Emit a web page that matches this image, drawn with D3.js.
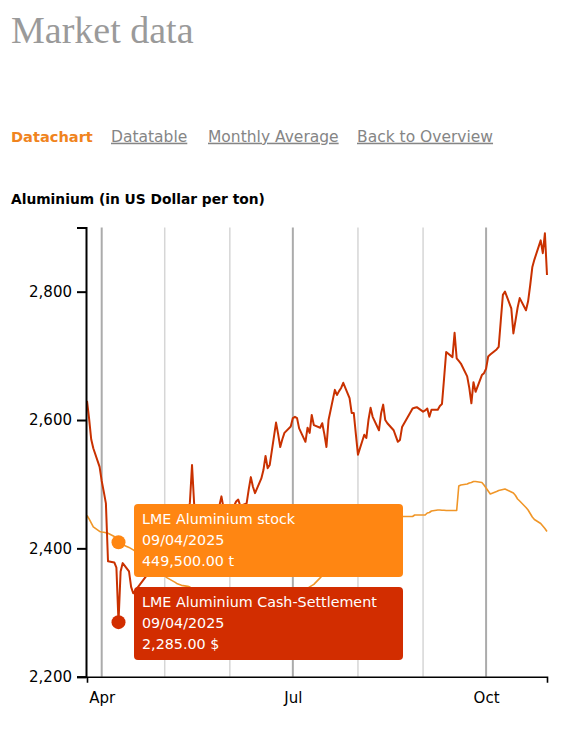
<!DOCTYPE html>
<html>
<head>
<meta charset="utf-8">
<script src="https://cdn.jsdelivr.net/npm/d3@7"></script>
<style>
  body { margin: 0; background: #fff; }
  svg { display: block; }
  text { font-family: "DejaVu Sans", sans-serif; }
</style>
</head>
<body>
<svg id="chart" width="562" height="738"></svg>
<script>
// trading days shown on the chart (one row per week)
var tradeDates = [
  "2025-03-25","2025-03-26","2025-03-27","2025-03-28",
  "2025-03-31","2025-04-01","2025-04-02","2025-04-03","2025-04-04",
  "2025-04-07","2025-04-08","2025-04-09","2025-04-10","2025-04-11",
  "2025-04-14","2025-04-15","2025-04-16","2025-04-17",
  "2025-04-22","2025-04-23","2025-04-24","2025-04-25",
  "2025-04-28","2025-04-29","2025-04-30","2025-05-01","2025-05-02",
  "2025-05-06","2025-05-07","2025-05-08","2025-05-09",
  "2025-05-12","2025-05-13","2025-05-14","2025-05-15","2025-05-16",
  "2025-05-19","2025-05-20","2025-05-21","2025-05-22","2025-05-23",
  "2025-05-27","2025-05-28","2025-05-29","2025-05-30",
  "2025-06-02","2025-06-03","2025-06-04","2025-06-05","2025-06-06",
  "2025-06-09","2025-06-10","2025-06-11","2025-06-12","2025-06-13",
  "2025-06-16","2025-06-17","2025-06-18","2025-06-19","2025-06-20",
  "2025-06-23","2025-06-24","2025-06-25","2025-06-26","2025-06-27",
  "2025-06-30","2025-07-01","2025-07-02","2025-07-03","2025-07-04",
  "2025-07-07","2025-07-08","2025-07-09","2025-07-10","2025-07-11",
  "2025-07-14","2025-07-15","2025-07-16","2025-07-17","2025-07-18",
  "2025-07-21","2025-07-22","2025-07-23","2025-07-24","2025-07-25",
  "2025-07-28","2025-07-29","2025-07-30","2025-07-31","2025-08-01",
  "2025-08-04","2025-08-05","2025-08-06","2025-08-07","2025-08-08",
  "2025-08-11","2025-08-12","2025-08-13","2025-08-14","2025-08-15",
  "2025-08-18","2025-08-19","2025-08-20","2025-08-21","2025-08-22",
  "2025-08-26","2025-08-27","2025-08-28","2025-08-29",
  "2025-09-01","2025-09-02","2025-09-03","2025-09-04","2025-09-05",
  "2025-09-08","2025-09-09","2025-09-10","2025-09-11","2025-09-12",
  "2025-09-15","2025-09-16","2025-09-17","2025-09-18","2025-09-19",
  "2025-09-22","2025-09-23","2025-09-24","2025-09-25","2025-09-26",
  "2025-09-29","2025-09-30","2025-10-01","2025-10-02","2025-10-03",
  "2025-10-06","2025-10-07","2025-10-08","2025-10-09","2025-10-10",
  "2025-10-13","2025-10-14","2025-10-15","2025-10-16","2025-10-17",
  "2025-10-20","2025-10-21","2025-10-22","2025-10-23","2025-10-24",
  "2025-10-27","2025-10-28","2025-10-29","2025-10-30"
];

// LME Aluminium Cash-Settlement, US$ per ton
var cashSettlement = [
  2630, 2602, 2570, 2556,
  2527, 2505, 2488, 2470, 2380,
  2378, 2370, 2285, 2364, 2377,
  2364, 2340, 2330, 2334,
  2356, 2392, 2398, 2404,
  2410, 2402, 2394, 2388, 2398,
  2420, 2412, 2418, 2432,
  2448, 2472, 2530, 2470, 2455,
  2448, 2458, 2462, 2450, 2454,
  2466, 2481, 2463, 2452,
  2458, 2466, 2473, 2476, 2466,
  2470, 2492, 2511, 2496, 2486,
  2509, 2522, 2544, 2525, 2530,
  2596, 2578, 2558, 2570, 2580,
  2590, 2603, 2605, 2603, 2587,
  2566, 2588, 2580, 2608, 2592,
  2588, 2595, 2578, 2558, 2600,
  2647, 2639, 2645, 2650, 2658,
  2634, 2611, 2611, 2578, 2546,
  2577, 2572, 2600, 2619, 2605,
  2584, 2610, 2624, 2600, 2595,
  2584, 2575, 2566, 2569, 2589,
  2612, 2618, 2619, 2620,
  2613, 2615, 2618, 2605, 2616,
  2616, 2622, 2625, 2665, 2706,
  2698, 2736, 2696, 2692, 2688,
  2668, 2650, 2626, 2659, 2644,
  2670, 2673, 2680, 2699, 2702,
  2710, 2714, 2755, 2795, 2800,
  2774, 2735, 2755, 2775, 2790,
  2771, 2785, 2810, 2838, 2850,
  2880, 2860, 2891, 2826
];

// LME Aluminium stock, tonnes
var stockTonnes = [
  503000, 496000, 488000, 480000,
  471000, 470000, 469500, 468500, 467500,
  461000, 456000, 449500, 447000, 444500,
  439000, 436500, 434000, 431000,
  418000, 412000, 406500, 401000,
  393000, 389000, 385500, 382000, 378500,
  369000, 366000, 364500, 363000,
  361000, 359500, 357000, 354000, 351000,
  348000, 346000, 344500, 342000, 341000,
  339500, 338000, 337000, 336000,
  335000, 334000, 333500, 332500, 332000,
  331000, 330500, 331000, 332000, 332500,
  333000, 334000, 334500, 336000, 337000,
  338000, 339500, 341000, 342000, 344000,
  345000, 347000, 349000, 351000, 353000,
  355000, 357000, 360000, 362500, 365000,
  378000, 383000, 386000, 391000, 394000,
  404000, 407000, 413000, 416000, 421000,
  430000, 435000, 438000, 443000, 446000,
  456000, 461000, 463000, 468000, 472000,
  478000, 482000, 484000, 488000, 490000,
  494000, 495000, 498000, 500000, 501000,
  501000, 501000, 504000, 504000,
  504000, 504000, 508000, 509000, 512000,
  514000, 514000, 513500, 513500, 513000,
  513000, 513000, 513000, 562000, 564000,
  566000, 568000, 569000, 571000, 571000,
  569000, 564000, 558000, 552000, 546000,
  551000, 553000, 554000, 555000, 556000,
  550000, 548000, 543000, 536000, 532000,
  519000, 514000, 507000, 500000, 495000,
  487000, 482000, 477000, 471000
];

var yTicks = [2200, 2400, 2600, 2800];
var monthStarts = ["2025-04-01","2025-05-01","2025-06-01","2025-07-01","2025-08-01","2025-09-01","2025-10-01"];
var labelledMonths = ["2025-04-01","2025-07-01","2025-10-01"];
var tabLabels = ["Datachart", "Datatable", "Monthly Average", "Back to Overview"];
var tooltipDate = "2025-04-09";
var seriesNames = ["LME Aluminium stock", "LME Aluminium Cash-Settlement"];

var parse = d3.timeParse("%Y-%m-%d");
var svg = d3.select("#chart");

var C = {
    red: "#c93100",
    redBox: "#d22d00",
    orangeLine: "#f09628",
    orangeBox: "#ff8612",
    tab: "#f0841e",
    grey: "#858585"
};

// ---- page header ----
svg.append("text")
    .attr("x", 11).attr("y", 42.7)
    .style("font-family", "'Liberation Serif', serif")
    .style("font-size", "38px")
    .style("fill", "#9a9a9a")
    .text("Market data");

var tabX = [11, 111, 208, 357];
tabLabels.forEach(function(t, i) {
    svg.append("text")
        .attr("x", tabX[i]).attr("y", 141.7)
        .style("font-size", i === 0 ? "14.6px" : "15.5px")
        .style("font-weight", i === 0 ? "bold" : "normal")
        .style("fill", i === 0 ? C.tab : C.grey)
        .style("text-decoration", i === 0 ? "none" : "underline")
        .text(t);
});

svg.append("text")
    .attr("x", 11).attr("y", 204)
    .style("font-size", "13.8px")
    .style("font-weight", "bold")
    .style("fill", "#000")
    .text("Aluminium (in US Dollar per ton)");

// ---- scales ----
var data = tradeDates.map(function(d, i) {
    return { date: parse(d), cash: cashSettlement[i], stock: stockTonnes[i] };
});

var x = d3.scaleTime()
    .domain(d3.extent(data, function(d) { return d.date; }))
    .range([87, 547]);

var y = d3.scaleLinear().domain([2200, 2900]).range([676.7, 227.5]);
// stock runs on a hidden second axis
var y2 = d3.scaleLinear().domain([180000, 1080000]).range([676.7, 227.5]);

// month grid
svg.append("g").selectAll("line")
    .data(monthStarts.map(parse))
    .enter().append("line")
    .attr("x1", function(d) { return x(d); })
    .attr("x2", function(d) { return x(d); })
    .attr("y1", y.range()[1])
    .attr("y2", y.range()[0])
    .style("stroke", function(d) { return d.getMonth() % 3 === 0 ? "#ababab" : "#d6d6d6"; })
    .style("stroke-width", function(d) { return d.getMonth() % 3 === 0 ? 2 : 1.5; });

// ---- lines ----
var stockLine = d3.line()
    .x(function(d) { return x(d.date); })
    .y(function(d) { return y2(d.stock); });

var cashLine = d3.line()
    .x(function(d) { return x(d.date); })
    .y(function(d) { return y(d.cash); });

svg.append("path")
    .datum(data)
    .attr("d", stockLine)
    .style("fill", "none")
    .style("stroke", C.orangeLine)
    .style("stroke-width", 1.6)
    .style("stroke-linejoin", "round");

svg.append("path")
    .datum(data)
    .attr("d", cashLine)
    .style("fill", "none")
    .style("stroke", C.red)
    .style("stroke-width", 2)
    .style("stroke-linejoin", "round");

// ---- axes ----
var yAxis = svg.append("g")
    .attr("transform", "translate(86,0)")
    .call(d3.axisLeft(y)
        .tickValues(yTicks)
        .tickFormat(d3.format(","))
        .tickSizeInner(9)
        .tickSizeOuter(9)
        .tickPadding(5));

var xAxis = svg.append("g")
    .attr("transform", "translate(0," + y.range()[0] + ")")
    .call(d3.axisBottom(x)
        .tickValues(labelledMonths.map(parse))
        .tickFormat(d3.timeFormat("%b"))
        .tickSizeInner(0)
        .tickSizeOuter(6)
        .tickPadding(16));

[yAxis, xAxis].forEach(function(g) {
    g.attr("font-family", null).attr("font-size", null);
    g.selectAll("text").style("font-size", "15px").style("fill", "#000");
    g.selectAll("path, line").style("stroke", "#000");
});
yAxis.selectAll("path, line").style("stroke-width", 2);
xAxis.select(".domain").style("stroke-width", 1.6);

// ---- tooltip for the hovered day ----
var hover = data[tradeDates.indexOf(tooltipDate)];
var hx = x(hover.date);
var fmtDate = d3.timeFormat("%d/%m/%Y");
var fmtNum = d3.format(",.2f");

var tips = [
    { name: seriesNames[0], cy: y2(hover.stock), top: 504, fill: C.orangeBox,
      value: fmtNum(hover.stock) + " t" },
    { name: seriesNames[1], cy: y(hover.cash), top: 587, fill: C.redBox,
      value: fmtNum(hover.cash) + " $" }
];

tips.forEach(function(t) {
    svg.append("circle")
        .attr("cx", hx).attr("cy", t.cy).attr("r", 7)
        .style("fill", t.fill);

    var g = svg.append("g").attr("transform", "translate(" + (hx + 15.5) + "," + t.top + ")");
    g.append("rect")
        .attr("width", 269).attr("height", 73).attr("rx", 4)
        .style("fill", t.fill);
    [t.name, fmtDate(hover.date), t.value].forEach(function(line, i) {
        g.append("text")
            .attr("x", 8).attr("y", 20 + i * 21)
            .style("font-size", "14.3px")
            .style("fill", "#fff")
            .text(line);
    });
});
</script>
</body>
</html>
